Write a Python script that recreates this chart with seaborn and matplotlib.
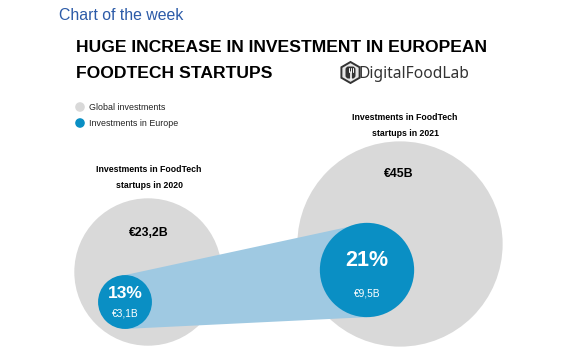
import numpy as np
import matplotlib
matplotlib.use("Agg")
import matplotlib.pyplot as plt
from matplotlib.patches import Circle, Polygon, RegularPolygon, FancyBboxPatch
import seaborn as sns

# ---- data ----
years = ["2020", "2021"]
global_inv = [23.2, 45.0]          # billion EUR
europe_inv = [3.1, 9.5]            # billion EUR
share_pct = [13, 21]
global_labels = ["€23,2B", "€45B"]
europe_labels = ["€3,1B", "€9,5B"]
legend_labels = ["Global investments", "Investments in Europe"]

# ---- style ----
sns.set_theme(style="white")
plt.rcParams["font.family"] = ["Liberation Sans", "DejaVu Sans"]

GREY = "#d9d9d9"
BLUE = "#0a8fc4"
LIGHT = "#9fc9e2"
TITLE_BLUE = "#2c5ba8"

W, H = 572, 358
fig = plt.figure(figsize=(W / 100, H / 100), dpi=100)
ax = fig.add_axes([0, 0, 1, 1])
ax.set_xlim(0, W)
ax.set_ylim(H, 0)
ax.axis("off")

# layout (pixel units)
grey_centers = [(148, 272), (400, 244)]
blue_centers = [(125, 302), (367, 270)]
K = 15.3  # radius scale: r = K * sqrt(value)

rg = [K * np.sqrt(v) for v in global_inv]
rb = [K * np.sqrt(v) for v in europe_inv]

for (cx, cy), r in zip(grey_centers, rg):
    ax.add_patch(Circle((cx, cy), r, facecolor=GREY, edgecolor="none", zorder=1))

# connecting band between Europe circles
(x1, y1), (x2, y2) = blue_centers
band = Polygon([(x1, y1 - rb[0]), (x2, y2 - rb[1]), (x2, y2 + rb[1]), (x1, y1 + rb[0])],
               closed=True, facecolor=LIGHT, edgecolor="none", zorder=2)
ax.add_patch(band)

for (cx, cy), r in zip(blue_centers, rb):
    ax.add_patch(Circle((cx, cy), r, facecolor=BLUE, edgecolor="none", zorder=3))

# labels inside circles
ax.text(149, 233, global_labels[0], ha="center", va="center", fontsize=8.8,
        fontweight="bold", color="black", zorder=4)
ax.text(399, 174, global_labels[1], ha="center", va="center", fontsize=8.8,
        fontweight="bold", color="black", zorder=4)

pct_sizes = [12.5, 15.5]
pct_offsets = [-8, -10]
val_offsets = [12, 23]
for i, (cx, cy) in enumerate(blue_centers):
    ax.text(cx, cy + pct_offsets[i], f"{share_pct[i]}%", ha="center", va="center",
            fontsize=pct_sizes[i], fontweight="bold", color="white", zorder=4)
    ax.text(cx, cy + val_offsets[i], europe_labels[i], ha="center", va="center",
            fontsize=7.3, color="white", zorder=4)

# year captions
caps = [(149, 170, 185), (405, 118, 133)]
for (x, ya, yb), yr in zip(caps, years):
    ax.text(x, ya, "Investments in FoodTech", ha="center", va="center",
            fontsize=6.3, fontweight="bold", color="black")
    ax.text(x, yb, f"startups in {yr}", ha="center", va="center",
            fontsize=6.3, fontweight="bold", color="black")

# legend
for (y, col, lab) in [(107, GREY, legend_labels[0]), (123, BLUE, legend_labels[1])]:
    ax.add_patch(Circle((80, y), 4.8, facecolor=col, edgecolor="none"))
    ax.text(89, y, lab, ha="left", va="center", fontsize=6.4, color="#222222")

# header
ax.text(59, 15, "Chart of the week", ha="left", va="center", fontsize=11.4,
        color=TITLE_BLUE)
ax.text(76, 47, "HUGE INCREASE IN INVESTMENT IN EUROPEAN", ha="left", va="center",
        fontsize=12.6, fontweight="bold", color="black")
ax.text(76, 73, "FOODTECH STARTUPS", ha="left", va="center",
        fontsize=12.6, fontweight="bold", color="black")

# logo
hx, hy = 350.5, 72.5
ax.add_patch(RegularPolygon((hx, hy), numVertices=6, radius=10.5, orientation=0,
                            facecolor="#e6e6e6", edgecolor="#333333", lw=1.4, zorder=5))
ax.add_patch(FancyBboxPatch((hx - 5, hy - 6), 10, 12, boxstyle="round,pad=0,rounding_size=3",
                            facecolor="#333333", edgecolor="none", zorder=6))
for dx in (-2, 0, 2):
    ax.plot([hx + dx, hx + dx], [hy - 5, hy - 1], color="white", lw=0.7, zorder=7)
ax.plot([hx, hx], [hy - 1, hy + 6], color="white", lw=1.2, zorder=7)
ax.text(359, 73.5, "DigitalFoodLab", ha="left", va="center", fontsize=11.2,
        family=["Noto Sans", "DejaVu Sans"], color="#333333")

fig.savefig("out.png", dpi=100)
